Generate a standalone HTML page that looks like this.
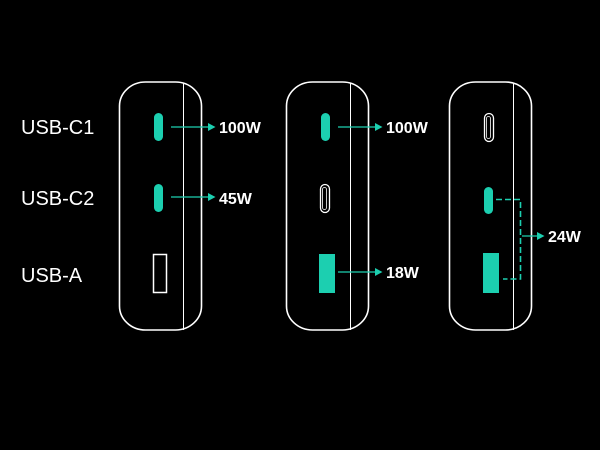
<!DOCTYPE html>
<html><head><meta charset="utf-8"><style>
html,body{margin:0;padding:0;background:#000;}
svg{display:block;}
text{font-family:"Liberation Sans",sans-serif;fill:#fff;}
</style></head><body>
<svg width="600" height="450" viewBox="0 0 600 450" xmlns="http://www.w3.org/2000/svg">
<rect width="600" height="450" fill="#000"/>
<defs>
<marker id="ah" markerWidth="9" markerHeight="9" refX="6" refY="4.5" orient="auto" markerUnits="userSpaceOnUse">
<path d="M0,0.5 L7.5,4.5 L0,8.5 Z" fill="#1ccfb0"/></marker>
</defs>
<g font-size="20">
<text x="21" y="134">USB-C1</text>
<text x="21" y="205">USB-C2</text>
<text x="21" y="282">USB-A</text>
</g>
<g fill="none" stroke="#fff" stroke-width="1.6">
<rect x="119.5" y="82" width="82" height="248" rx="26" ry="24"/>
<rect x="286.5" y="82" width="82" height="248" rx="26" ry="24"/>
<rect x="449.5" y="82" width="82" height="248" rx="26" ry="24"/>
</g>
<g stroke="#fff" stroke-width="1">
<line x1="183.5" y1="83" x2="183.5" y2="330"/>
<line x1="350.5" y1="83" x2="350.5" y2="330"/>
<line x1="513.5" y1="83" x2="513.5" y2="330"/>
</g>
<rect x="154" y="113" width="9" height="28" rx="4.5" fill="#1ccfb0"/>
<rect x="154" y="184" width="9" height="28" rx="4.5" fill="#1ccfb0"/>
<rect x="153.5" y="254.5" width="13" height="38" fill="none" stroke="#fff" stroke-width="1.5"/>
<line x1="171" y1="127" x2="214" y2="127" stroke="#1ccfb0" stroke-width="1.3" marker-end="url(#ah)"/>
<line x1="171" y1="197" x2="214" y2="197" stroke="#1ccfb0" stroke-width="1.3" marker-end="url(#ah)"/>
<text x="219" y="133" font-size="16" font-weight="bold">100W</text>
<text x="219" y="204" font-size="16" font-weight="bold">45W</text>
<rect x="321" y="113" width="9" height="28" rx="4.5" fill="#1ccfb0"/>
<rect x="320.5" y="184.5" width="9" height="28" rx="4.5" fill="none" stroke="#fff" stroke-width="1.3"/>
<rect x="322.5" y="187.5" width="4" height="22" rx="2" fill="none" stroke="#fff" stroke-width="0.8"/>
<rect x="319" y="254" width="16" height="39" fill="#1ccfb0"/>
<line x1="338" y1="127" x2="381" y2="127" stroke="#1ccfb0" stroke-width="1.3" marker-end="url(#ah)"/>
<line x1="338" y1="272" x2="381" y2="272" stroke="#1ccfb0" stroke-width="1.3" marker-end="url(#ah)"/>
<text x="386" y="133" font-size="16" font-weight="bold">100W</text>
<text x="386" y="278" font-size="16" font-weight="bold">18W</text>
<rect x="484.5" y="113.5" width="9" height="28" rx="4.5" fill="none" stroke="#fff" stroke-width="1.3"/>
<rect x="486.5" y="116.5" width="4" height="22" rx="2" fill="none" stroke="#fff" stroke-width="0.8"/>
<rect x="484" y="187" width="9" height="27" rx="4.5" fill="#1ccfb0"/>
<rect x="483" y="253" width="16" height="40" fill="#1ccfb0"/>
<polyline points="496,199.5 520.5,199.5 520.5,279 503,279" fill="none" stroke="#1ccfb0" stroke-width="1.6" stroke-dasharray="6,3"/>
<line x1="522" y1="236" x2="543" y2="236" stroke="#1ccfb0" stroke-width="1.3" marker-end="url(#ah)"/>
<text x="548" y="242" font-size="16" font-weight="bold">24W</text>
</svg>
</body></html>
